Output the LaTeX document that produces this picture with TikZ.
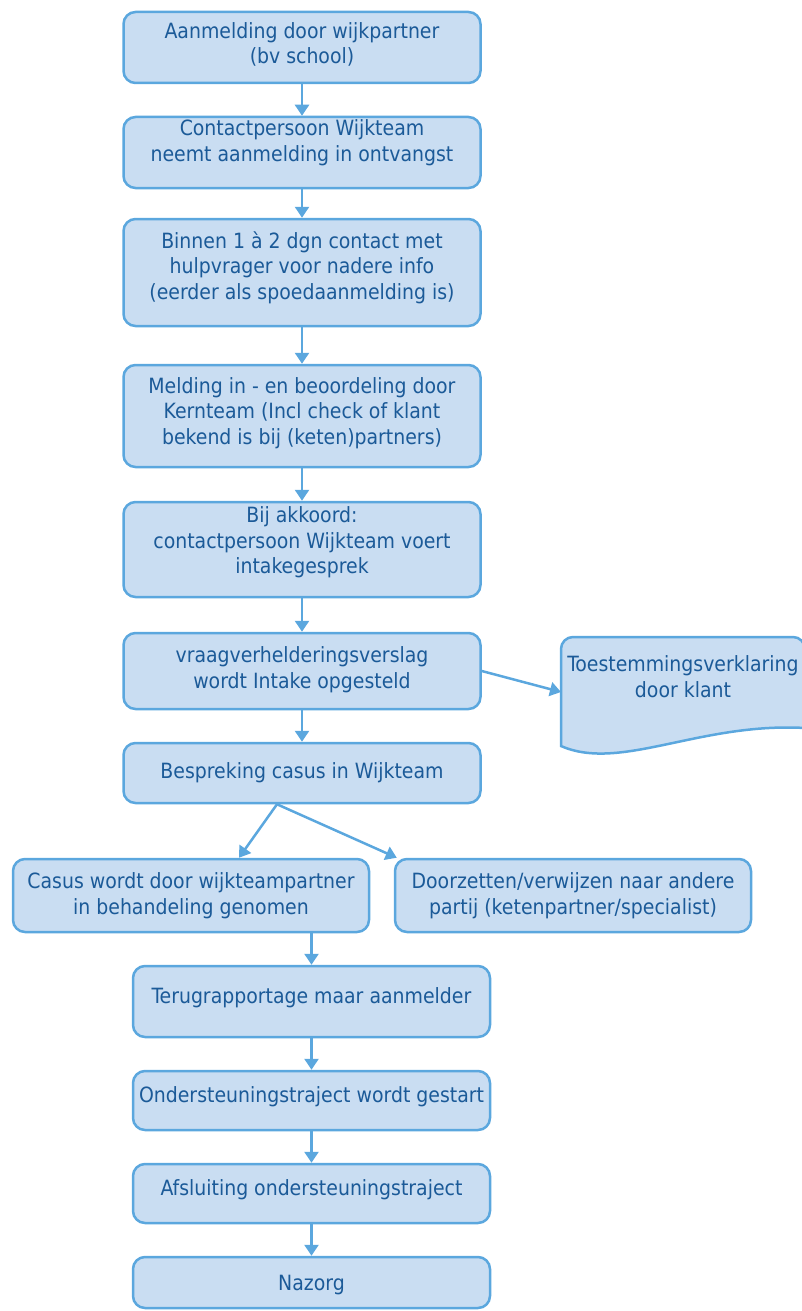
\documentclass[tikz,border=0pt]{standalone}
\usepackage{fontspec}
\setmainfont{DejaVu Sans Condensed}
\usetikzlibrary{arrows.meta}
\definecolor{boxfill}{HTML}{C9DDF2}
\definecolor{boxline}{HTML}{5BA7DE}
\definecolor{boxtext}{HTML}{1B5A98}
\tikzset{
  stepbox/.style={draw=boxline, fill=boxfill, line width=2.5pt, rounded corners=12pt,
    minimum width=357pt, inner sep=0pt},
  steptext/.style={text=boxtext, align=center, font=\fontsize{21}{25.5}\selectfont},
  docshape/.style={draw=boxline, fill=boxfill, line width=2.5pt},
  flow/.style={draw=boxline, line width=2.5pt, -{Triangle[length=11pt,width=14pt]}}
}

\begin{document}
\begin{tikzpicture}[x=1pt,y=-1pt]
  \useasboundingbox (0,0) rectangle (801,1311);
  %% intake column
  \node[stepbox, minimum height=71pt,
    label={[steptext,yshift=3pt]center:{Aanmelding door wijkpartner\\(bv school)}}] (s1) at (302,47.5) {};
  \node[stepbox, minimum height=71pt,
    label={[steptext,yshift=10pt]center:{Contactpersoon Wijkteam\\neemt aanmelding in ontvangst}}] (s2) at (302,152.5) {};
  \node[stepbox, minimum height=107pt,
    label={[steptext,yshift=5pt]center:{Binnen 1 à 2 dgn contact met\\hulpvrager voor nadere info\\(eerder als spoedaanmelding is)}}] (s3) at (302,272.5) {};
  \node[stepbox, minimum height=102pt,
    label={[steptext,yshift=3pt]center:{Melding in - en beoordeling door\\Kernteam (Incl check of klant\\bekend is bij (keten)partners)}}] (s4) at (302,416) {};
  \node[stepbox, minimum height=95pt,
    label={[steptext,yshift=7pt]center:{Bij akkoord:\\contactpersoon Wijkteam voert\\intakegesprek}}] (s5) at (302,549.5) {};
  \node[stepbox, minimum height=76pt,
    label={[steptext,yshift=1.5pt]center:{vraagverhelderingsverslag\\wordt Intake opgesteld}}] (s6) at (302,671) {};
  \node[stepbox, minimum height=60pt,
    label={[steptext]center:{Bespreking casus in Wijkteam}}] (s7) at (302,773) {};
  %% consent form
  \draw[docshape] (561,746) [rounded corners=12pt] -- (561,637) -- (805,637) [sharp corners] -- (805,728)
    .. controls (700,722) and (620,772) .. (561,746) -- cycle;
  \node[steptext] (doc) at (683,676.5) {Toestemmingsverklaring\\door klant};
  \coordinate (docin) at (561,692);
  %% two outcomes
  \node[stepbox, minimum width=356pt, minimum height=73pt,
    label={[steptext]center:{Casus wordt door wijkteampartner\\in behandeling genomen}}] (s8) at (191,895.5) {};
  \node[stepbox, minimum width=356pt, minimum height=73pt,
    label={[steptext]center:{Doorzetten/verwijzen naar andere\\partij (ketenpartner/specialist)}}] (s9) at (573,895.5) {};
  %% follow-up column
  \node[stepbox, minimum height=71pt,
    label={[steptext,yshift=3.5pt]center:{Terugrapportage maar aanmelder}}] (s10) at (311.5,1001.5) {};
  \node[stepbox, minimum height=59pt,
    label={[steptext,yshift=4pt]center:{Ondersteuningstraject wordt gestart}}] (s11) at (311.5,1100.5) {};
  \node[stepbox, minimum height=59pt,
    label={[steptext,yshift=3.5pt]center:{Afsluiting ondersteuningstraject}}] (s12) at (311.5,1193.5) {};
  \node[stepbox, minimum height=51pt,
    label={[steptext,yshift=-2.5pt]center:{Nazorg}}] (s13) at (311.5,1282.5) {};
  %% connectors
  \foreach \a/\b in {s1/s2,s2/s3,s3/s4,s4/s5,s5/s6,s6/s7,s10/s11,s11/s12,s12/s13} {
    \draw[flow] (\a) -- (\b);
  }
  \draw[flow] (s6.east) -- (docin);
  \coordinate (split) at ([xshift=-25pt]s7.south);
  \draw[flow] (split) -- ([xshift=48pt]s8.north);
  \draw[flow] (split) -- ([xshift=3pt]s9.north west);
  \draw[flow] (s10.north |- s8.south) -- (s10.north);
\end{tikzpicture}
\end{document}
